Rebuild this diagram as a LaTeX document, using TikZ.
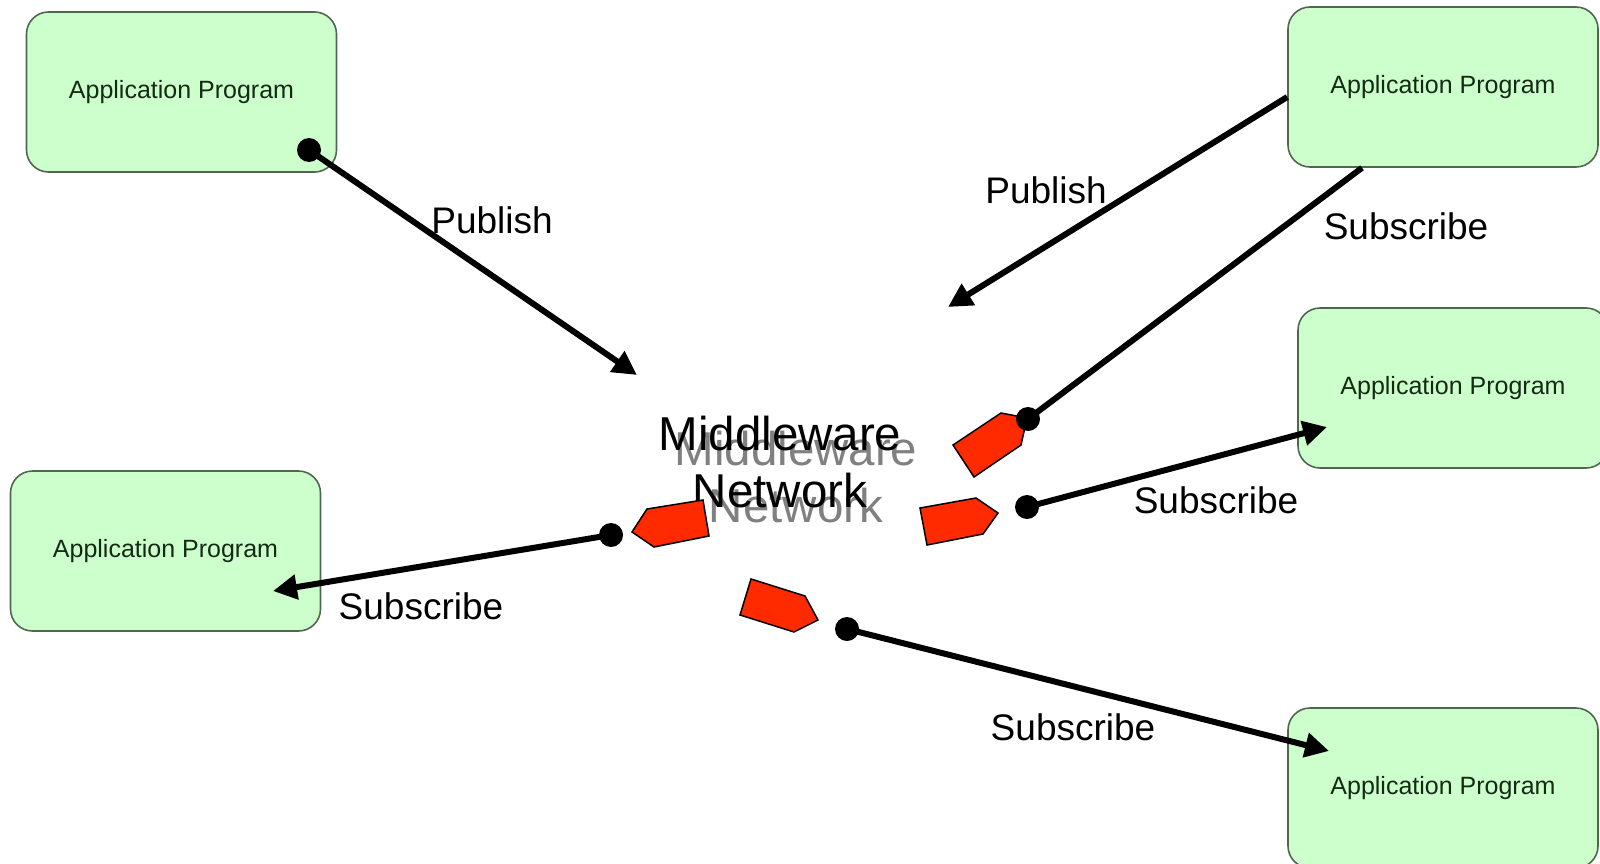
\documentclass[tikz,border=0pt]{standalone}
\usepackage{fontspec}
\setmainfont{Liberation Sans}
\usetikzlibrary{arrows.meta}
\definecolor{appfill}{HTML}{CCFFCC}
\definecolor{appline}{HTML}{506650}
\definecolor{apptext}{HTML}{142A14}
\definecolor{tagred}{HTML}{FF2A00}
\definecolor{shadowgray}{HTML}{808080}
\begin{document}
\begin{tikzpicture}[x=1pt,y=-1pt,
  appbox/.style={draw=appline, line width=1.6pt, fill=appfill, rounded corners=22pt,
    minimum width=310pt, minimum height=160pt, inner sep=0pt,
    text=apptext, font=\fontsize{25}{30}\selectfont},
  conn/.style={line width=6pt, draw=black},
  arrowconn/.style={conn, -{Triangle[length=24pt,width=24pt]}},
  dotnode/.style={circle, fill=black, minimum size=24pt, inner sep=0pt},
  lbl/.style={font=\fontsize{37}{44}\selectfont, inner sep=0pt},
  bigtext/.style={font=\fontsize{47.5}{57}\selectfont, align=center, inner sep=0pt},
  redtag/.style={draw=black, line width=1.5pt, fill=tagred, line join=miter}
]
\useasboundingbox (0,0) rectangle (1600,864);

% application programs
\node[appbox] (tl) at (181.5,92)  {Application Program};
\node[appbox] (tr) at (1443,87)   {Application Program};
\node[appbox] (mr) at (1453,388)  {Application Program};
\node[appbox] (bl) at (165.5,551) {Application Program};
\node[appbox] (br) at (1443,788)  {Application Program};

% middleware label with its offset grey copy
\node[bigtext, text=shadowgray] (mwshadow) at (796,477) {Middleware\\Network};
\node[bigtext] (mw) at (780,462) {Middleware\\Network};

% message tags
\draw[redtag] (953,445) -- (1001,413) -- (1027,418) -- (1021,445) -- (974,477) -- cycle;
\draw[redtag] (920,508) -- (976,498) -- (998,513) -- (983,534) -- (927,545) -- cycle;
\draw[redtag] (632,532) -- (647,509) -- (703,500) -- (709,536) -- (654,547) -- cycle;
\draw[redtag] (740,615) -- (751,579) -- (805,596) -- (818,620) -- (794,632) -- cycle;

% attachment points
\node[dotnode] (dtl) at (309,150) {};
\node[dotnode] (dtr) at (1028,419) {};
\node[dotnode] (dmr) at (1027,507) {};
\node[dotnode] (dbl) at (611,535) {};
\node[dotnode] (dbr) at (847,629) {};

% free arrow ends
\coordinate (pubL) at (637,375);
\coordinate (pubR) at (948,307);
\coordinate (subMR) at (1327,427);
\coordinate (subBL) at (273,591);
\coordinate (subBR) at (1329,751);

% connectors
\draw[arrowconn] (dtl.center) -- (pubL);
\draw[arrowconn] ([yshift=-10pt]tr.west) -- (pubR);
\draw[conn] ([xshift=-81pt]tr.south) -- (dtr.center);
\draw[arrowconn] (dmr.center) -- (subMR);
\draw[arrowconn] (dbl.center) -- (subBL);
\draw[arrowconn] (dbr.center) -- (subBR);

% connector labels
\node[lbl] (lpubL) at (492,220)  {Publish};
\node[lbl] (lpubR) at (1046,190) {Publish};
\node[lbl] (lsubTR) at (1406,226) {Subscribe};
\node[lbl] (lsubMR) at (1216,500) {Subscribe};
\node[lbl] (lsubBL) at (421,606)  {Subscribe};
\node[lbl] (lsubBR) at (1073,727) {Subscribe};
\end{tikzpicture}
\end{document}
